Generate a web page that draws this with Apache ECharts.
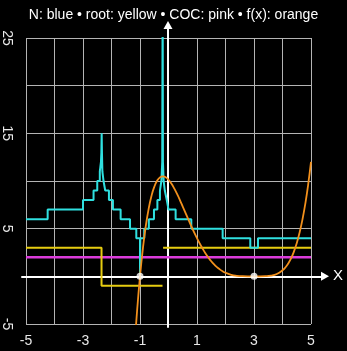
<!DOCTYPE html>
<html>
<head>
<meta charset="utf-8">
<script src="https://cdn.jsdelivr.net/npm/echarts@6/dist/echarts.min.js"></script>
<style>
  html, body { margin: 0; padding: 0; background: #000; }
  #chart { width: 347px; height: 351px; }
</style>
</head>
<body>
<div id="chart"></div>
<script>
// Tick labels shown on each axis
const xTickLabels = [-5, -3, -1, 1, 3, 5];
const yTickLabels = [-5, 5, 15, 25];

// N: iteration count, constant from each breakpoint to the next
const nX =   [-5, -4.24, -3.0, -2.63, -2.5, -2.41, -2.37, -2.355, -2.345, -2.335, -2.32, -2.28, -2.22, -2.09, -1.95, -1.68, -1.35, -1.13, -1.0, -0.99, -0.85, -0.69, -0.51, -0.39, -0.30, -0.25, -0.22, -0.205, -0.195, -0.17, -0.13, -0.06, 0.0, 0.25, 0.80, 1.90, 2.87, 3.14, 5];
const nVal = [6, 7, 8, 9, 10, 11, 12, 13, 15, 13, 11, 10, 9, 8, 7, 6, 5, 4, 0, 4, 5, 6, 7, 8, 9, 10, 12, 30, 12, 10, 9, 8, 7, 6, 5, 4, 3, 4, 4];

// Root reached from each starting point (null = no value)
const rootX =   [-5, -2.35, -0.21, -0.2, -0.19, 5];
const rootVal = [3, -1, -1, null, 3, 3];

// Computational order of convergence
const cocX =   [-5, 5];
const cocVal = [2, 2];

// f(x)
const fX =   [-1.2, -1.1, -1.0, -0.9, -0.8, -0.7, -0.6, -0.5, -0.4, -0.3, -0.2, -0.1, 0.0, 0.1, 0.2, 0.3, 0.4, 0.5, 0.6, 0.7, 0.8, 0.9, 1.0, 1.1, 1.2, 1.3, 1.4, 1.5, 1.6, 1.7, 1.8, 1.9, 2.0, 2.2, 2.4, 2.6, 2.8, 3.0, 3.2, 3.4, 3.6, 3.8, 4.0, 4.1, 4.2, 4.3, 4.4, 4.5, 4.6, 4.7, 4.8, 4.9, 5.0];
const fVal = [-7.78, -3.53, 0, 2.89, 5.21, 7.03, 8.40, 9.38, 10.02, 10.38, 10.49, 10.39, 10.13, 9.73, 9.22, 8.64, 8.00, 7.32, 6.64, 5.95, 5.27, 4.62, 4.00, 3.42, 2.89, 2.40, 1.97, 1.58, 1.25, 0.96, 0.73, 0.53, 0.38, 0.16, 0.055, 0.012, 0.001, 0, 0.001, 0.014, 0.075, 0.25, 0.63, 0.93, 1.35, 1.89, 2.59, 3.48, 4.59, 5.95, 7.61, 9.61, 12.0];

// Roots of f
const rootPtX = [-1, 3];
const rootPtY = [0, 0];

const zip = (xs, ys) => xs.map((x, i) => [x, ys[i] === null ? '-' : ys[i]]);

const FONT = 'Liberation Sans, Arial, sans-serif';
const gridColor = '#b4b4b4';
const labelColor = '#e8e8e8';

// Scale of the plotting grid: x -5..5 over 286px, y -5..25 over 286px
const pxX = 286 / 10, pxY = 286 / 30;
// Outer grid carries the arrowed axes through the origin
const outer = { left: 22, right: 22, top: 25, bottom: 24 };
const outerXMin = -5 - 3 / pxX;
const outerXMax = 5 + (347 - 22 - 311) / pxX;
const outerYMax = 25 + (38 - 25) / pxY;
const outerYMin = -5 - (327 - 324) / pxY;

const chart = echarts.init(document.getElementById('chart'), null, { renderer: 'canvas' });

chart.setOption({
  backgroundColor: '#000',
  animation: false,
  textStyle: { fontFamily: FONT },
  title: {
    text: 'N: blue \u2022 root: yellow \u2022 COC: pink \u2022 f(x): orange',
    left: 'center',
    top: 3,
    textStyle: { color: '#ffffff', fontSize: 14, fontWeight: 'normal', fontFamily: FONT }
  },
  grid: [
    { left: 25, right: 36, top: 38, bottom: 27 },
    outer
  ],
  xAxis: [
    {
      gridIndex: 0, type: 'value', min: -5, max: 5, interval: 1,
      axisLine: { show: false }, axisTick: { show: false },
      splitLine: { show: true, lineStyle: { color: gridColor, width: 1 } },
      axisLabel: {
        color: labelColor, fontSize: 14, margin: 10, fontFamily: FONT,
        formatter: v => xTickLabels.includes(v) ? String(v) : ''
      }
    },
    {
      gridIndex: 1, type: 'value', min: outerXMin, max: outerXMax,
      axisLine: {
        show: true, onZero: true, symbol: ['none', 'triangle'], symbolSize: [9, 8],
        lineStyle: { color: '#ffffff', width: 2 }
      },
      axisTick: { show: false }, axisLabel: { show: false }, splitLine: { show: false },
      name: 'X', nameLocation: 'end', nameGap: 8,
      nameTextStyle: { color: '#ffffff', fontSize: 15, fontFamily: FONT }
    }
  ],
  yAxis: [
    {
      gridIndex: 0, type: 'value', min: -5, max: 25, interval: 5,
      axisLine: { show: false }, axisTick: { show: false },
      splitLine: { show: true, lineStyle: { color: gridColor, width: 1 } },
      axisLabel: {
        color: labelColor, fontSize: 14, margin: 12, rotate: -90, fontFamily: FONT,
        formatter: v => yTickLabels.includes(v) ? String(v) : ''
      }
    },
    {
      gridIndex: 1, type: 'value', min: outerYMin, max: outerYMax,
      axisLine: {
        show: true, onZero: true, symbol: ['none', 'triangle'], symbolSize: [9, 8],
        lineStyle: { color: '#ffffff', width: 2 }
      },
      axisTick: { show: false }, axisLabel: { show: false }, splitLine: { show: false }
    }
  ],
  series: [
    {
      name: 'COC', type: 'line', xAxisIndex: 0, yAxisIndex: 0,
      data: zip(cocX, cocVal), showSymbol: false,
      lineStyle: { color: '#dc3cdc', width: 2.5 }, z: 3
    },
    {
      name: 'root', type: 'line', xAxisIndex: 0, yAxisIndex: 0, step: 'end',
      data: zip(rootX, rootVal), showSymbol: false, connectNulls: false,
      lineStyle: { color: '#e6cc10', width: 2 }, z: 4
    },
    {
      name: 'N', type: 'line', xAxisIndex: 0, yAxisIndex: 0, step: 'end',
      data: zip(nX, nVal), showSymbol: false,
      lineStyle: { color: '#2fe0e0', width: 2 }, z: 5
    },
    {
      name: 'f(x)', type: 'line', xAxisIndex: 0, yAxisIndex: 0, smooth: true,
      data: zip(fX, fVal), showSymbol: false,
      lineStyle: { color: '#f2901c', width: 1.8 }, z: 6
    },
    {
      name: 'roots', type: 'scatter', xAxisIndex: 0, yAxisIndex: 0,
      data: zip(rootPtX, rootPtY), symbol: 'circle', symbolSize: 7,
      itemStyle: { color: '#ffffff' }, z: 7
    }
  ]
});
</script>
</body>
</html>
